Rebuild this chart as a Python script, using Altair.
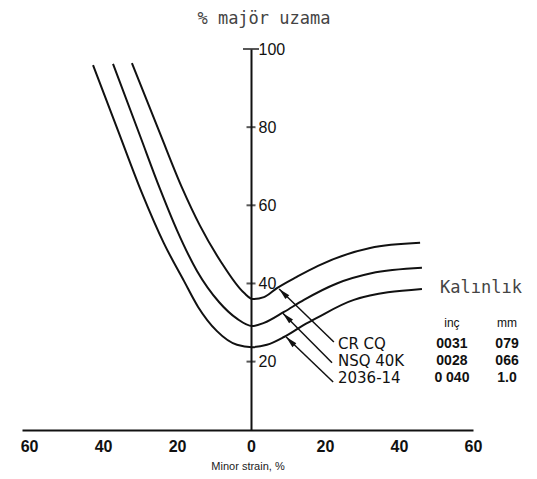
import altair as alt
import pandas as pd

# ---- curve data (minor strain %, major strain %) ----
series_names = ["CR CQ", "NSQ 40K", "2036-14"]

crcq_x = [-32.2, -24.6, -18.6, -13.8, -8.1, -1.9, 0.5, 3.5, 7.0, 12.4, 18.1, 32.2, 45.7]
crcq_y = [96.4, 78.4, 64.4, 54.8, 45.5, 37.6, 36.0, 36.5, 38.8, 41.7, 44.5, 49.1, 50.4]

nsq_x = [-37.3, -30.0, -24.6, -20.0, -14.6, -8.6, -3.8, 0.3, 3.5, 8.9, 14.3, 23.2, 32.5, 46.2]
nsq_y = [96.2, 77.8, 64.2, 53.6, 43.2, 35.2, 31.0, 29.1, 29.9, 32.7, 35.8, 40.0, 42.6, 44.0]

s2036_x = [-42.7, -35.9, -29.5, -23.5, -18.1, -14.3, -9.2, -3.8, 0.3, 4.3, 8.9, 14.3, 17.8, 27.8, 46.2]
s2036_y = [95.9, 79.0, 63.2, 50.2, 40.6, 34.0, 27.8, 24.3, 23.7, 24.3, 26.3, 29.4, 31.2, 35.8, 38.6]

x_ticks = [-60, -40, -20, 0, 20, 40, 60]
y_ticks = [20, 40, 60, 80]
y_top = [100]

# ---- annotation data ----
arrow_head_x = [7.6, 8.6, 9.5]
arrow_head_y = [38.6, 32.4, 26.3]
arrow_tail_x = [22.4, 21.9, 22.2]
arrow_tail_y = [25.0, 19.7, 14.8]
label_x = [23.5, 23.5, 23.5]
label_y = [24.5, 20.2, 15.8]
inch_text = ["0031", "0028", "0 040"]
mm_text = ["079", "066", "1.0"]
inch_col_x = 54.3
mm_col_x = 69.2
header_y = 29.9
header_text = ["inç", "mm"]
legend_title = "Kalınlık"
legend_title_x = 51.1
legend_title_y = 38.8
chart_title = "% majör uzama"
chart_title_x = 3.5
chart_title_y = 107.6

# ---- build tables ----
rows = []
for name, xs, ys in zip(series_names, [crcq_x, nsq_x, s2036_x], [crcq_y, nsq_y, s2036_y]):
    for i, (a, b) in enumerate(zip(xs, ys)):
        rows.append({"series": name, "minor": a, "major": b, "order": i})
curves = pd.DataFrame(rows)

arrows = pd.DataFrame({
    "series": series_names,
    "hx": arrow_head_x, "hy": arrow_head_y,
    "tx": arrow_tail_x, "ty": arrow_tail_y,
    "lx": label_x, "ly": label_y,
    "inch": inch_text, "mm": mm_text,
    "ix": [inch_col_x] * 3, "mx": [mm_col_x] * 3,
})
headers = pd.DataFrame({"x": [inch_col_x, mm_col_x], "y": [header_y] * 2, "t": header_text})
mono = pd.DataFrame({"x": [legend_title_x], "y": [legend_title_y], "t": [legend_title]})
title_df = pd.DataFrame({"x": [chart_title_x], "y": [chart_title_y], "t": [chart_title]})
ticks_df = pd.DataFrame({"x": [0] * len(y_ticks), "y": y_ticks})
top_df = pd.DataFrame({"x": [0], "y": y_top})

INK = "#111111"
xscale = alt.Scale(domain=[-61.9, 60], nice=False, zero=False)
yscale = alt.Scale(domain=[2.5, 100], nice=False, zero=False)

x_axis = alt.Axis(
    values=x_ticks, labelExpr="format(abs(datum.value), 'd')", grid=False, ticks=False,
    domainColor=INK, domainWidth=2, labelFont="Liberation Sans", labelFontSize=16,
    labelFontWeight="bold", labelColor=INK, labelPadding=8, labelFlush=False,
    title="Minor strain, %", titleFont="Liberation Sans", titleFontSize=11,
    titleFontWeight="normal", titleColor="#222222", titlePadding=6,
)
y_axis = alt.Axis(
    orient="right", offset=-222, values=y_ticks + y_top, grid=False, ticks=False,
    domainColor=INK, domainWidth=2, labelFont="Liberation Sans", labelFontSize=16,
    labelColor=INK, labelPadding=7, title=None,
)


def X(field):
    return alt.X(field, type="quantitative", scale=xscale, axis=x_axis)


def Y(field):
    return alt.Y(field, type="quantitative", scale=yscale, axis=y_axis)


lines = alt.Chart(curves).mark_line(interpolate="monotone", color=INK, strokeWidth=2).encode(
    x=X("minor"), y=Y("major"), detail="series:N", order="order:Q")

tick_layer = alt.Chart(ticks_df).mark_tick(orient="horizontal", size=9, thickness=2, color=INK).encode(
    x=X("x"), y=Y("y"))
top_layer = alt.Chart(top_df).mark_tick(orient="horizontal", size=16, thickness=2, color=INK).encode(
    x=X("x"), y=Y("y"))

leaders = alt.Chart(arrows).mark_rule(color=INK, strokeWidth=1.5).encode(
    x=X("hx"), y=Y("hy"), x2="tx", y2="ty")
heads = alt.Chart(arrows).mark_point(
    shape="M0,0 L0.45,1.9 L-0.45,1.9 Z", filled=True, size=150, angle=315,
    color=INK, opacity=1).encode(x=X("hx"), y=Y("hy"))

labels = alt.Chart(arrows).mark_text(
    align="left", baseline="middle", font="DejaVu Sans", fontSize=15, color=INK).encode(
    x=X("lx"), y=Y("ly"), text="series:N")
inch_col = alt.Chart(arrows).mark_text(
    align="center", baseline="middle", font="Liberation Sans", fontSize=14,
    fontWeight="bold", color=INK).encode(x=X("ix"), y=Y("ly"), text="inch:N")
mm_col = alt.Chart(arrows).mark_text(
    align="center", baseline="middle", font="Liberation Sans", fontSize=14,
    fontWeight="bold", color=INK).encode(x=X("mx"), y=Y("ly"), text="mm:N")
header_layer = alt.Chart(headers).mark_text(
    align="center", baseline="middle", font="Liberation Sans", fontSize=12, color=INK).encode(
    x=X("x"), y=Y("y"), text="t:N")
mono_layer = alt.Chart(mono).mark_text(
    align="left", baseline="middle", font="DejaVu Sans Mono", fontSize=17, color="#444444").encode(
    x=X("x"), y=Y("y"), text="t:N")
title_layer = alt.Chart(title_df).mark_text(
    align="center", baseline="middle", font="DejaVu Sans Mono", fontSize=17, color="#444444").encode(
    x=X("x"), y=Y("y"), text="t:N")

chart = alt.layer(
    lines, tick_layer, top_layer, leaders, heads, labels, inch_col, mm_col,
    header_layer, mono_layer, title_layer,
).properties(
    width=451, height=381,
    autosize=alt.AutoSizeParams(type="none"),
    padding={"left": 14, "top": 41, "right": 54, "bottom": 46},
    background="white",
).configure_view(stroke=None)

chart.save("out.html", embed_options={"renderer": "svg", "actions": False})
